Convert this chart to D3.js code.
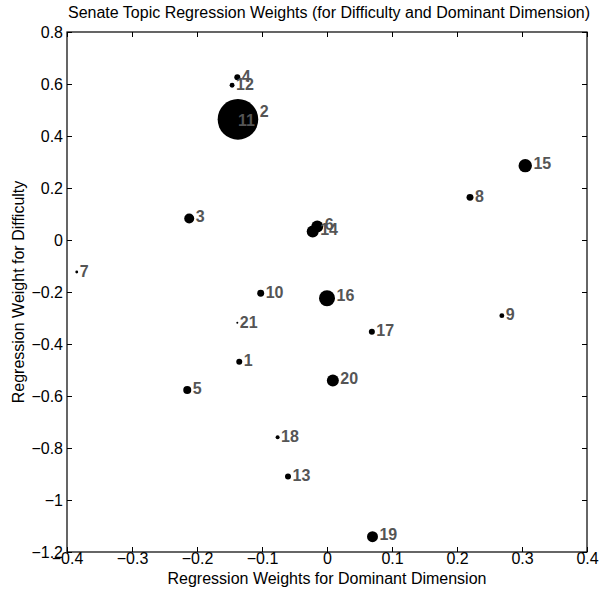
<!DOCTYPE html>
<html>
<head>
<meta charset="utf-8">
<script src="https://cdn.jsdelivr.net/npm/d3@7"></script>
<style>
  body { margin: 0; background: #fff; }
  svg text { font-family: "Liberation Sans", Arial, sans-serif; }
</style>
</head>
<body>
<svg id="chart"></svg>
<script>
// topic ids, dominant-dimension weight (x), difficulty weight (y), marker size
const topics = ['1', '2', '3', '4', '5', '6', '7', '8', '9', '10', '11', '12', '13', '14', '15', '16', '17', '18', '19', '20', '21'];
const dimWeights = [-0.135, -0.137, -0.212, -0.138, -0.215, -0.015, -0.385, 0.220, 0.269, -0.102, -0.143, -0.146, -0.060, -0.022, 0.305, 0.000, 0.069, -0.076, 0.070, 0.009, -0.138];
const diffWeights = [-0.468, 0.464, 0.083, 0.626, -0.577, 0.052, -0.123, 0.164, -0.291, -0.205, 0.458, 0.595, -0.910, 0.033, 0.286, -0.224, -0.353, -0.759, -1.141, -0.540, -0.318];
const sizes = [9, 412, 25, 9, 16, 36, 2, 12, 6, 12, 6, 6, 9, 36, 45, 64, 9, 4, 30, 36, 1];

const xTicks = [-0.4, -0.3, -0.2, -0.1, 0, 0.1, 0.2, 0.3, 0.4];
const yTicks = [0.8, 0.6, 0.4, 0.2, 0, -0.2, -0.4, -0.6, -0.8, -1, -1.2];

const W = 600, H = 595;
const margin = { top: 32, right: 13, bottom: 43, left: 67 };
const width = W - margin.left - margin.right;
const height = H - margin.top - margin.bottom;

const svg = d3.select('#chart').attr('width', W).attr('height', H);
const g = svg.append('g').attr('transform', `translate(${margin.left},${margin.top})`);

const x = d3.scaleLinear().domain([-0.4, 0.4]).range([0, width]);
const y = d3.scaleLinear().domain([-1.2, 0.8]).range([height, 0]);
const r = d3.scaleSqrt().domain([0, 400]).range([0, 20]);

const fmt = d => d3.format('')(+d.toFixed(1));

// axes, ticks pointing inward on all four sides
const tickLen = 5;
const styleAxis = sel => {
  sel.select('.domain').remove();
  sel.selectAll('line').attr('stroke', '#000');
  sel.selectAll('text').attr('fill', '#000').style('font-size', '16px');
};
g.append('g').attr('transform', `translate(0,${height})`)
  .call(d3.axisBottom(x).tickValues(xTicks).tickSizeInner(-tickLen).tickSizeOuter(0).tickPadding(1).tickFormat(fmt))
  .call(styleAxis);
g.append('g')
  .call(d3.axisTop(x).tickValues(xTicks).tickSizeInner(-tickLen).tickSizeOuter(0).tickFormat(''))
  .call(styleAxis);
g.append('g')
  .call(d3.axisLeft(y).tickValues(yTicks).tickSizeInner(-tickLen).tickSizeOuter(0).tickPadding(4).tickFormat(fmt))
  .call(styleAxis);
g.append('g').attr('transform', `translate(${width},0)`)
  .call(d3.axisRight(y).tickValues(yTicks).tickSizeInner(-tickLen).tickSizeOuter(0).tickFormat(''))
  .call(styleAxis);

g.append('rect')
  .attr('width', width).attr('height', height)
  .attr('fill', 'none').attr('stroke', '#000').attr('stroke-width', 1.2);

const data = topics.map((t, i) => ({ id: t, x: dimWeights[i], y: diffWeights[i], s: sizes[i] }));

g.selectAll('circle.pt')
  .data(data)
  .enter().append('circle')
  .attr('class', 'pt')
  .attr('cx', d => x(d.x))
  .attr('cy', d => y(d.y))
  .attr('r', d => r(d.s))
  .attr('fill', '#000');

g.selectAll('text.lbl')
  .data(data)
  .enter().append('text')
  .attr('class', 'lbl')
  .attr('x', d => x(d.x) + r(d.s) + 1.5)
  .attr('y', d => y(d.y) - 0.4 * r(d.s))
  .attr('dy', '0.35em')
  .attr('fill', '#555')
  .style('font-size', '16px')
  .style('font-weight', 'bold')
  .text(d => d.id);

svg.append('text')
  .attr('x', margin.left + width / 2 + 2).attr('y', 18)
  .attr('text-anchor', 'middle')
  .style('font-size', '16px')
  .text('Senate Topic Regression Weights (for Difficulty and Dominant Dimension)');

svg.append('text')
  .attr('x', margin.left + width / 2).attr('y', 584)
  .attr('text-anchor', 'middle')
  .style('font-size', '16px')
  .text('Regression Weights for Dominant Dimension');

svg.append('text')
  .attr('transform', `translate(24,${margin.top + height / 2}) rotate(-90)`)
  .attr('text-anchor', 'middle')
  .style('font-size', '16px')
  .text('Regression Weight for Difficulty');
</script>
</body>
</html>
